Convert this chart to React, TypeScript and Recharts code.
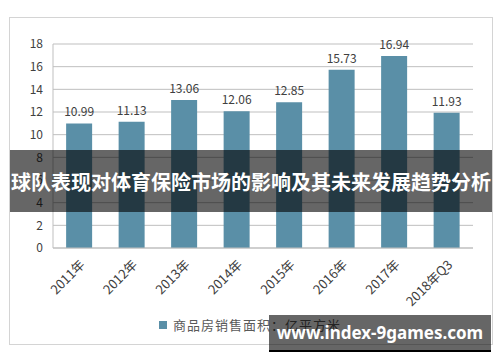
import { BarChart, Bar, XAxis, YAxis, CartesianGrid, LabelList } from "recharts"

const years = ["2011年", "2012年", "2013年", "2014年", "2015年", "2016年", "2017年", "2018年Q3"]
const salesArea = [10.99, 11.13, 13.06, 12.06, 12.85, 15.73, 16.94, 11.93]
const yTicks = [0, 2, 4, 6, 8, 10, 12, 14, 16, 18]

const seriesName = "商品房销售面积：亿平方米"
const title = "球队表现对体育保险市场的影响及其未来发展趋势分析"
const watermark = "www.index-9games.com"

const font = "'Noto Sans CJK SC', 'Noto Sans', sans-serif"

export default function App() {
  const data = years.map((y, i) => ({ year: y, value: salesArea[i] }))

  return (
    <div style={{ position: "absolute", left: 0, top: 0, width: 500, height: 362, background: "#fff", fontFamily: font, overflow: "hidden" }}>
      <div style={{ position: "absolute", left: 9, top: 17, width: 482, height: 326, border: "1px solid #d4d4d4" }} />
      <div style={{ position: "absolute", left: 0, top: 0 }}>
        <BarChart width={500} height={362} data={data} margin={{ top: 44, right: 27, bottom: 54, left: 0 }} barCategoryGap="25%">
          <CartesianGrid vertical={false} stroke="#bfbfbf" />
          <YAxis
            width={53}
            domain={[0, 18]}
            ticks={yTicks}
            interval={0}
            tickLine={false}
            tickSize={0}
            tickMargin={10}
            axisLine={{ stroke: "#bfbfbf" }}
            tick={{ fontSize: 12, fill: "#404040", fontFamily: font }}
          />
          <XAxis
            dataKey="year"
            height={60}
            interval={0}
            tickLine={false}
            tickSize={0}
            tickMargin={11}
            angle={-45}
            textAnchor="end"
            axisLine={{ stroke: "#bfbfbf" }}
            tick={{ fontSize: 13, fill: "#404040", fontFamily: font }}
          />
          <Bar dataKey="value" name={seriesName} fill="#5a8fa7" isAnimationActive={false}>
            <LabelList dataKey="value" position="top" offset={7} style={{ fontSize: 12, fill: "#404040", fontFamily: font }} />
          </Bar>
        </BarChart>
      </div>
      <div style={{ position: "absolute", left: 159, top: 318, display: "flex", alignItems: "center" }}>
        <div style={{ width: 8, height: 8, background: "#5a8fa7" }} />
        <span style={{ marginLeft: 6, fontSize: 13, color: "#595959", letterSpacing: 1, lineHeight: "13px" }}>{seriesName}</span>
      </div>
      <div style={{ position: "absolute", left: 10, top: 150, width: 482, height: 62, background: "rgba(0,0,0,0.6)", display: "flex", alignItems: "center", justifyContent: "center" }}>
        <span style={{ color: "#fff", fontWeight: 700, fontSize: 20, whiteSpace: "nowrap" }}>{title}</span>
      </div>
      <div style={{ position: "absolute", left: 269, top: 315, width: 222, height: 35, background: "rgba(0,0,0,0.6)", borderBottom: "2px solid #000", display: "flex", alignItems: "center", justifyContent: "center" }}>
        <span style={{ color: "#fff", fontWeight: 700, fontSize: 17, fontFamily: "'Noto Sans', sans-serif", whiteSpace: "nowrap" }}>{watermark}</span>
      </div>
    </div>
  )
}
